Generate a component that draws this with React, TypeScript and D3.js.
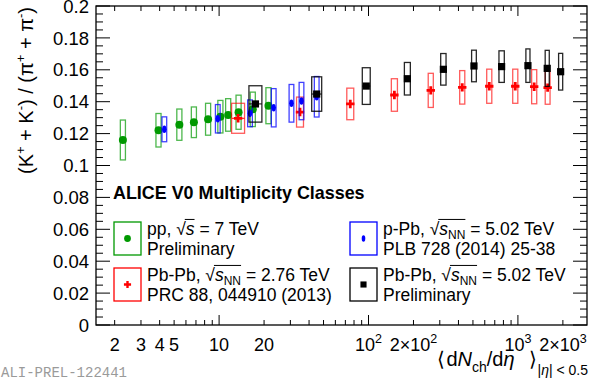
import React from 'react';
import * as d3 from 'd3';

// ---------------- DATA ----------------
const ppX = [2.27, 3.93, 5.42, 6.78, 8.44, 10.2, 11.5, 13.5, 16.8, 21.4];
const ppY = [0.116, 0.1221, 0.1256, 0.1271, 0.129, 0.1306, 0.1317, 0.1334, 0.1352, 0.1375];
const ppSysY = [0.0125, 0.0105, 0.0098, 0.0096, 0.01, 0.0102, 0.0102, 0.0107, 0.0108, 0.0113];
const ppSysXRel = [0.04, 0.04, 0.04, 0.04, 0.04, 0.04, 0.04, 0.04, 0.04, 0.04];

const pPbX = [4.3, 9.8, 16.1, 23.2, 30.5, 35.6, 45.0];
const pPbY = [0.1227, 0.1293, 0.1327, 0.1362, 0.139, 0.1404, 0.1431];
const pPbSysY = [0.0078, 0.0089, 0.0084, 0.012, 0.0118, 0.0117, 0.0127];
const pPbSysXRel = [0.037, 0.037, 0.037, 0.037, 0.037, 0.037, 0.037];

const pbpb276X = [13.4, 34.8, 75.5, 149, 261, 424, 643, 960, 1285, 1581];
const pbpb276Y = [0.1296, 0.1335, 0.1386, 0.1442, 0.1471, 0.149, 0.1497, 0.1497, 0.1494, 0.1488];
const pbpb276SysY = [0.0094, 0.0094, 0.0099, 0.0102, 0.0107, 0.0105, 0.0107, 0.0107, 0.0107, 0.0104];
const pbpb276SysXRel = [0.105, 0.055, 0.055, 0.048, 0.04, 0.04, 0.04, 0.04, 0.04, 0.038];

const pbpb502X = [17.5, 45.0, 96.6, 182, 317, 508, 778, 1167, 1571, 1932];
const pbpb502Y = [0.1386, 0.1448, 0.1498, 0.1544, 0.1603, 0.1624, 0.162, 0.1626, 0.1609, 0.1588];
const pbpb502SysY = [0.0114, 0.0108, 0.0115, 0.0102, 0.0099, 0.0099, 0.0099, 0.0105, 0.0113, 0.0115];
const pbpb502SysXRel = [0.105, 0.08, 0.063, 0.047, 0.042, 0.037, 0.042, 0.032, 0.032, 0.032];

const xTickVals = [2, 3, 4, 5, 10, 20, 100, 200, 1000, 2000];
const xTickLabels = ['2', '3', '4', '5', '10', '20', '10^2', '2×10^2', '10^3', '2×10^3'];
const yTickVals = [0, 0.02, 0.04, 0.06, 0.08, 0.1, 0.12, 0.14, 0.16, 0.18, 0.2];

// ---------------- LAYOUT ----------------
const W = 598, H = 387;
const L = 96, R = 587, T = 6, B = 325;
const FONT = '"Liberation Sans", Arial, Helvetica, sans-serif';

const x = d3.scaleLog().domain([1.5, 2900]).range([L, R]);
const y = d3.scaleLinear().domain([0, 0.2]).range([B, T]);

let ctx: CanvasRenderingContext2D | null = null;
function measure(t: string, size: number, weight = 'normal', style = 'normal') {
  if (!ctx) ctx = document.createElement('canvas').getContext('2d');
  if (!ctx) return t.length * size * 0.55;
  ctx.font = `${style} ${weight} ${size}px ${FONT}`;
  return ctx.measureText(t).width;
}

type Part = { t: string; it?: boolean; sub?: number; sup?: number; size?: number; over?: boolean; dx?: number };

function Rich({ x: px, y: py, parts, size, anchor = 'start', weight = 'normal', fill = '#000', transform }:
  { x: number; y: number; parts: Part[]; size: number; anchor?: string; weight?: string; fill?: string; transform?: string }) {
  let cx = 0;
  let ovMin = Infinity, ovMax = -Infinity;
  const items: any[] = [];
  for (const p of parts) {
    const s = p.size ?? size;
    cx += p.dx ?? 0;
    const w = measure(p.t, s, weight, p.it ? 'italic' : 'normal');
    const dy = p.sub ? p.sub : p.sup ? -p.sup : 0;
    items.push({ ...p, x: cx, s, dy, w });
    if (p.over) { ovMin = Math.min(ovMin, cx); ovMax = Math.max(ovMax, cx + w); }
    cx += w;
  }
  const off = anchor === 'end' ? -cx : anchor === 'middle' ? -cx / 2 : 0;
  const tr = transform ?? `translate(${px + off},${py})`;
  return (
    <g transform={transform ? `${transform} translate(${off},0)` : tr}>
      {items.map((it, i) => (
        <text key={i} x={it.x} y={it.dy} fontSize={it.s} fontStyle={it.it ? 'italic' : 'normal'}
          fontWeight={weight} fill={fill} fontFamily={FONT} xmlSpace="preserve" style={{ whiteSpace: 'pre' }}>{it.t}</text>
      ))}
      {ovMin < ovMax && (
        <line x1={ovMin - 1} x2={ovMax} y1={-size * 0.86} y2={-size * 0.86} stroke={fill} strokeWidth={1} />
      )}
    </g>
  );
}

type Series = { xs: number[]; ys: number[]; sy: number[]; sx: number[]; color: string; boxOpacity: number; marker: string };

const series: Series[] = [
  { xs: ppX, ys: ppY, sy: ppSysY, sx: ppSysXRel, color: '#009900', boxOpacity: 0.7, marker: 'circle' },
  { xs: pbpb276X, ys: pbpb276Y, sy: pbpb276SysY, sx: pbpb276SysXRel, color: '#ff0000', boxOpacity: 0.65, marker: 'cross' },
  { xs: pPbX, ys: pPbY, sy: pPbSysY, sx: pPbSysXRel, color: '#0000ff', boxOpacity: 0.75, marker: 'diamond' },
  { xs: pbpb502X, ys: pbpb502Y, sy: pbpb502SysY, sx: pbpb502SysXRel, color: '#000000', boxOpacity: 0.85, marker: 'square' },
];

function Marker({ type, cx, cy, color, s = 1 }: { type: string; cx: number; cy: number; color: string; s?: number }) {
  if (type === 'circle') return <circle cx={cx} cy={cy} r={4 * s} fill={color} />;
  if (type === 'square') return <rect x={cx - 3.6 * s} y={cy - 3.6 * s} width={7.2 * s} height={7.2 * s} fill={color} />;
  if (type === 'diamond') return <ellipse cx={cx} cy={cy} rx={2.1 * s} ry={3.8 * s} fill={color} />;
  const a = 4.2 * s, t = 1.4 * s;
  const d = `M${cx - t},${cy - a}H${cx + t}V${cy - t}H${cx + a}V${cy + t}H${cx + t}V${cy + a}H${cx - t}V${cy + t}H${cx - a}V${cy - t}H${cx - t}Z`;
  return <path d={d} fill={color} />;
}

const sqrtNN = (val: string): Part[] => [
  { t: '√' }, { t: 's', it: true, over: true }, { t: 'NN', size: 12, sub: 4, over: true }, { t: ' = ' + val + ' TeV' },
];

const legend = [
  { bx: 114, by: 222, color: '#009900', marker: 'circle', tx: 147, l1: [{ t: 'pp, ' }, { t: '√' }, { t: 's', it: true, over: true }, { t: ' = 7 TeV' }] as Part[], l2: 'Preliminary' },
  { bx: 114, by: 268, color: '#ff0000', marker: 'cross', tx: 147, l1: [{ t: 'Pb-Pb, ' }, ...sqrtNN('2.76')], l2: 'PRC 88, 044910 (2013)' },
  { bx: 350, by: 222, color: '#0000ff', marker: 'diamond', tx: 383, l1: [{ t: 'p-Pb, ' }, ...sqrtNN('5.02')], l2: 'PLB 728 (2014) 25-38' },
  { bx: 350, by: 268, color: '#000000', marker: 'square', tx: 383, l1: [{ t: 'Pb-Pb, ' }, ...sqrtNN('5.02')], l2: 'Preliminary' },
];

export default function App() {
  const yMinor = d3.range(0, 0.20001, 0.005);
  const xMinor: number[] = [];
  [1, 10, 100, 1000].forEach((dec) => {
    for (let k = 1; k <= 9; k++) {
      const v = k * dec;
      if (v >= 1.5 && v <= 2900) xMinor.push(v);
    }
  });
  const isMajorX = (v: number) => Math.abs(Math.log10(v) - Math.round(Math.log10(v))) < 1e-9;
  const isMajorY = (v: number) => Math.abs(v / 0.02 - Math.round(v / 0.02)) < 1e-6;

  return (
    <svg width={W} height={H} style={{ position: 'absolute', left: 0, top: 0, background: '#fff' }}>
      <rect x={0} y={0} width={W} height={H} fill="#fff" />
      {/* ticks */}
      {yMinor.map((v, i) => {
        const len = isMajorY(v) ? 14 : 7;
        return (
          <g key={'yt' + i}>
            <line x1={L} x2={L + len} y1={y(v)} y2={y(v)} stroke="#000" strokeWidth={1} />
            <line x1={R} x2={R - len} y1={y(v)} y2={y(v)} stroke="#000" strokeWidth={1} />
          </g>
        );
      })}
      {xMinor.map((v, i) => {
        const len = isMajorX(v) ? 10 : 5;
        return (
          <g key={'xt' + i}>
            <line x1={x(v)} x2={x(v)} y1={B} y2={B - len} stroke="#000" strokeWidth={1} />
            <line x1={x(v)} x2={x(v)} y1={T} y2={T + len} stroke="#000" strokeWidth={1} />
          </g>
        );
      })}
      <rect x={L} y={T} width={R - L} height={B - T} fill="none" stroke="#000" strokeWidth={1.3} />

      {/* y tick labels */}
      {yTickVals.map((v, i) => (
        <text key={'yl' + i} x={89} y={y(v) + 6.6} fontSize={18.5} textAnchor="end" fontFamily={FONT}>
          {String(+v.toFixed(2))}
        </text>
      ))}
      {/* x tick labels */}
      {xTickVals.map((v, i) => {
        const [base, exp] = xTickLabels[i].split('^');
        const parts: Part[] = exp ? [{ t: base }, { t: exp, size: 12.5, sup: 8 }] : [{ t: base }];
        return <Rich key={'xl' + i} x={x(v)} y={351} parts={parts} size={18} anchor="middle" />;
      })}

      {/* data */}
      {series.map((s, si) => (
        <g key={'s' + si}>
          {s.xs.map((xv, i) => {
            const x0 = x(xv / (1 + s.sx[i])), x1 = x(xv * (1 + s.sx[i]));
            const y0 = y(s.ys[i] + s.sy[i]), y1 = y(s.ys[i] - s.sy[i]);
            return (
              <g key={i}>
                <rect x={x0} y={y0} width={x1 - x0} height={y1 - y0} fill="none" stroke={s.color}
                  strokeOpacity={s.boxOpacity} strokeWidth={1.3} />
                <line x1={x0} x2={x1} y1={y(s.ys[i])} y2={y(s.ys[i])} stroke={s.color} strokeWidth={1} />
              </g>
            );
          })}
          {s.xs.map((xv, i) => (
            <Marker key={'m' + i} type={s.marker} cx={x(xv)} cy={y(s.ys[i])} color={s.color} />
          ))}
        </g>
      ))}

      {/* legend */}
      <text x={113} y={199} fontSize={17.9} fontWeight="bold" fontFamily={FONT}>ALICE V0 Multiplicity Classes</text>
      {legend.map((e, i) => (
        <g key={'lg' + i}>
          <rect x={e.bx} y={e.by} width={27} height={33} fill="none" stroke={e.color} strokeWidth={1.3} />
          <Marker type={e.marker} cx={e.bx + 13.5} cy={e.by + 16.5} color={e.color} s={0.85} />
          <Rich x={e.tx} y={e.by + 12.5} parts={e.l1} size={17.5} />
          <text x={e.tx} y={e.by + 33} fontSize={17.5} fontFamily={FONT}>{e.l2}</text>
        </g>
      ))}

      {/* axis titles */}
      <Rich x={0} y={0} size={20} anchor="end" transform="translate(33,7) rotate(-90)"
        parts={[{ t: '(K' }, { t: '+', size: 13, sup: 8 }, { t: ' + K' }, { t: '-', size: 13, sup: 8 },
          { t: ') / (π' }, { t: '+', size: 13, sup: 8 }, { t: ' + π' }, { t: '-', size: 13, sup: 8 }, { t: ')' }]} />
      <Rich x={588} y={366} size={20} anchor="end"
        parts={[{ t: '⟨', dx: 0 }, { t: 'd', dx: 1 }, { t: 'N', it: true }, { t: 'ch', size: 14, sub: 6 }, { t: '/d' }, { t: 'η', it: true },
          { t: '⟩', dx: 14 }, { t: '|', size: 14, sub: 9, dx: 1 }, { t: 'η', size: 14, sub: 9, it: true }, { t: '| < 0.5', size: 14, sub: 9 }]} />

      <text x={1} y={377} fontSize={14} fontFamily='"Liberation Mono", "DejaVu Sans Mono", monospace' fill="#9a9a9a">ALI-PREL-122441</text>
    </svg>
  );
}
